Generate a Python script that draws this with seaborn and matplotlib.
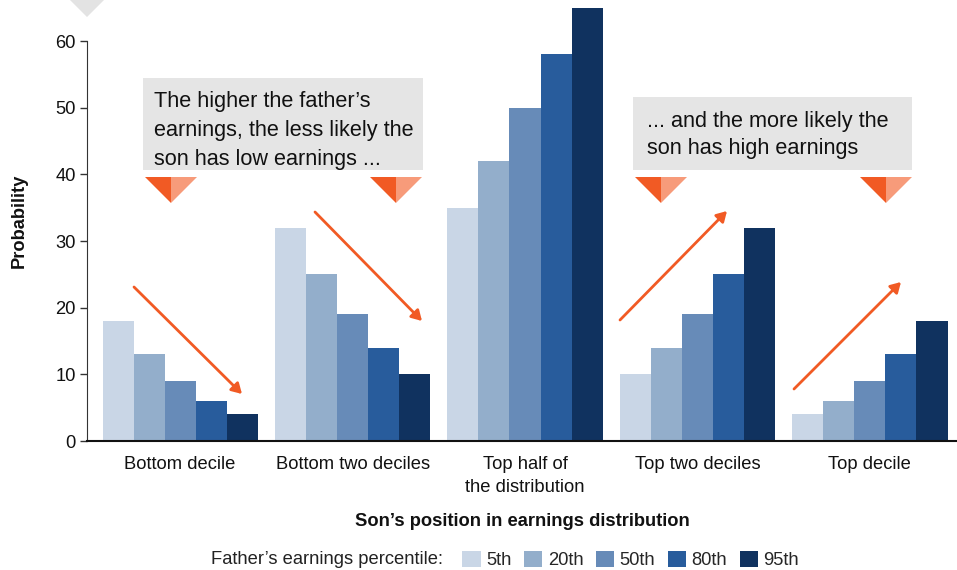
import matplotlib
matplotlib.use("Agg")
import matplotlib.pyplot as plt
import seaborn as sns
import pandas as pd
from matplotlib.patches import Polygon, FancyArrowPatch, Rectangle

categories = ["Bottom decile", "Bottom two deciles", "Top half of\nthe distribution",
              "Top two deciles", "Top decile"]
percentiles = ["5th", "20th", "50th", "80th", "95th"]
p5 = [18, 32, 35, 10, 4]
p20 = [13, 25, 42, 14, 6]
p50 = [9, 19, 50, 19, 9]
p80 = [6, 14, 58, 25, 13]
p95 = [4, 10, 65, 32, 18]
colors = ["#c9d6e6", "#93aecb", "#678bb8", "#285c9c", "#10325f"]

rows = []
for pct, vals in zip(percentiles, [p5, p20, p50, p80, p95]):
    for c, v in zip(categories, vals):
        rows.append({"category": c, "percentile": pct, "value": v})
df = pd.DataFrame(rows)

sns.set_style("white")
plt.rcParams["font.family"] = ["Liberation Sans", "DejaVu Sans"]

FS = 13.2
W, H = 957, 570
fig = plt.figure(figsize=(W / 100, H / 100), dpi=100)
ax = fig.add_axes([87 / W, 1 - 441 / H, 1 - 87 / W, 440 / H])

sns.barplot(data=df, x="category", y="value", hue="percentile", order=categories,
            hue_order=percentiles, palette=colors, width=0.9, saturation=1,
            linewidth=0, ax=ax, legend=True)

ax.set_ylim(0, 66)
ax.set_xlim(-0.54, 4.505)
ax.set_yticks([0, 10, 20, 30, 40, 50, 60])
ax.tick_params(axis="y", labelsize=FS, length=5, width=1, color="#333333", pad=3,
               left=True, labelcolor="#111111")
ax.tick_params(axis="x", labelsize=FS, length=0, pad=11, labelcolor="#111111")
for lbl in ax.get_xticklabels():
    lbl.set_linespacing(1.45)
for s in ["top", "right"]:
    ax.spines[s].set_visible(False)
ax.spines["left"].set_bounds(0, 60)
ax.spines["left"].set_color("#333333")
ax.spines["bottom"].set_color("#111111")
ax.spines["bottom"].set_linewidth(1.5)
ax.set_ylabel("Probability", fontsize=FS, fontweight="bold", labelpad=20, color="#111111")
ax.set_xlabel("Son\u2019s position in earnings distribution", fontsize=FS,
              fontweight="bold", labelpad=12, color="#111111")

# legend
handles, labels = ax.get_legend_handles_labels()
ax.legend_.remove()
fig.text(211 / W, 1 - 560 / H, "Father\u2019s earnings percentile:", fontsize=FS,
         va="center", ha="left", color="#222222")
fig.legend(handles, labels, loc="center left", bbox_to_anchor=(455 / W, 1 - 560 / H),
           ncol=5, frameon=False, fontsize=FS, handlelength=1.0, handleheight=1.0,
           handletextpad=0.3, columnspacing=0.68, borderaxespad=0)

# figure-pixel helpers
def fx(x):
    return x / W
def fy(y):
    return 1 - y / H

# top-left gray triangle
fig.patches.append(Polygon([(fx(70), fy(0)), (fx(104), fy(0)), (fx(87), fy(17))],
                           closed=True, transform=fig.transFigure, facecolor="#e3e3e3",
                           edgecolor="none"))

# annotation boxes
for (x0, y0, x1, y1) in [(143, 78, 423, 170), (633, 97, 912, 170)]:
    fig.patches.append(Rectangle((fx(x0), fy(y1)), (x1 - x0) / W, (y1 - y0) / H,
                                 transform=fig.transFigure, facecolor="#e5e5e5",
                                 edgecolor="none", zorder=3))
fig.text(fx(154), fy(91), "The higher the father\u2019s\nearnings, the less likely the\nson has low earnings ...",
         fontsize=15.6, va="top", ha="left", linespacing=1.49, color="#111111", zorder=4)
fig.text(fx(647), fy(111), "... and the more likely the\nson has high earnings",
         fontsize=15.6, va="top", ha="left", linespacing=1.4, color="#111111", zorder=4)

# orange callout triangles
for xl in [145, 370, 635, 860]:
    xr = xl + 52
    xm = (xl + xr) / 2
    fig.patches.append(Polygon([(fx(xl), fy(177)), (fx(xm), fy(177)), (fx(xm), fy(203))],
                               closed=True, transform=fig.transFigure,
                               facecolor="#f15a24", edgecolor="none", zorder=3))
    fig.patches.append(Polygon([(fx(xm), fy(177)), (fx(xr), fy(177)), (fx(xm), fy(203))],
                               closed=True, transform=fig.transFigure,
                               facecolor="#f79b7a", edgecolor="none", zorder=3))

# arrows
for (x0, y0, x1, y1) in [(134, 287, 242, 394), (315, 212, 422, 321),
                         (620, 320, 727, 211), (794, 389, 901, 282)]:
    fig.patches.append(FancyArrowPatch((fx(x0), fy(y0)), (fx(x1), fy(y1)),
                                       transform=fig.transFigure,
                                       arrowstyle="-|>,head_length=6,head_width=3.5",
                                       color="#f15a24", linewidth=2, zorder=5,
                                       shrinkA=0, shrinkB=0))

fig.savefig("out.png", dpi=100)
